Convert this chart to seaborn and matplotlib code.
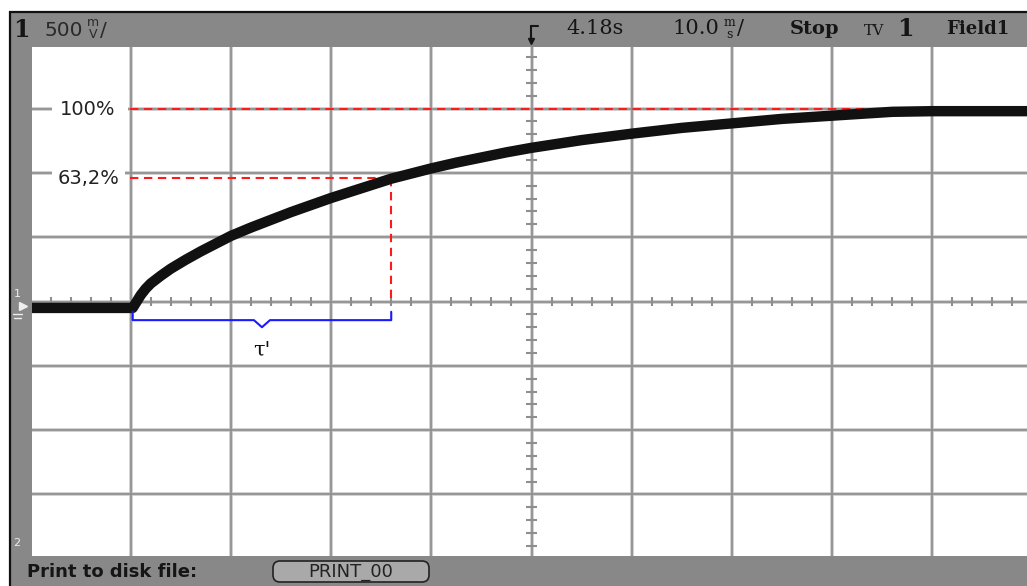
import matplotlib
matplotlib.use('Agg')
import matplotlib.pyplot as plt
from matplotlib.patches import Rectangle, FancyBboxPatch
import seaborn as sns
import numpy as np
import pandas as pd

# trace, in divisions (x: 10.0 ms/div, y: 500 mV/div)
time_div = [0.0, 1.02, 1.06, 1.1, 1.15, 1.2, 1.3, 1.4, 1.55, 1.7, 1.85, 2.0, 2.2, 2.4,
            2.6, 2.8, 3.0, 3.2, 3.4, 3.6, 3.8, 4.0, 4.25, 4.5, 4.75, 5.0, 5.25, 5.5,
            5.75, 6.0, 6.5, 7.0, 7.5, 8.0, 8.3, 8.6, 9.0, 9.95]
volt_div = [-0.10, -0.10, 0.00, 0.10, 0.20, 0.28, 0.40, 0.51, 0.65, 0.78, 0.90, 1.02, 1.15, 1.27,
            1.39, 1.50, 1.61, 1.71, 1.81, 1.91, 1.99, 2.07, 2.16, 2.24, 2.32, 2.39, 2.45, 2.51,
            2.56, 2.61, 2.70, 2.77, 2.84, 2.89, 2.92, 2.95, 2.96, 2.96]

level_100 = 2.99
level_632 = 1.92
step_start = 1.02
tau_end = 3.60
level_labels = ["100%", "63,2%"]

GRAY = "#888888"
GRID_DARK = "#8e8e8e"
GRID_LIGHT = "#c8c8c8"

sns.set_theme(style="white")
plt.rcParams['font.family'] = ['DejaVu Sans']

fig = plt.figure(figsize=(10.27, 5.86), dpi=100)

# frame of the scope screen, pixel coordinates
bg = fig.add_axes([0, 0, 1, 1])
bg.set_xlim(0, 1027)
bg.set_ylim(586, 0)
bg.axis('off')
bg.add_patch(Rectangle((10, 12), 1017, 574, facecolor=GRAY, edgecolor='none'))
bg.plot([9, 1027], [12, 12], color="#111111", lw=1.6, solid_capstyle='butt')
bg.plot([10, 10], [11, 586], color="#111111", lw=1.6, solid_capstyle='butt')

txt = "#151515"
bg.text(13, 30, "1", fontsize=17, fontweight='bold', family='DejaVu Serif', color=txt, va='center')
bg.text(44, 30, "500", fontsize=14.5, color="#2a2a2a", va='center')
bg.text(93, 23, "m", fontsize=9, color="#2a2a2a", ha='center', va='center')
bg.text(93, 35, "V", fontsize=9, color="#2a2a2a", ha='center', va='center')
bg.text(100, 30, "/", fontsize=14.5, color="#2a2a2a", va='center')

# trigger marker
bg.plot([531, 531], [26, 40], color=txt, lw=1.5)
bg.plot([531, 538], [26, 26], color=txt, lw=1.5)
bg.plot([531], [41], marker='v', color=txt, markersize=5)

bg.text(566, 29, "4.18s", fontsize=15, family='DejaVu Serif', color=txt, va='center')
bg.text(672, 29, "10.0", fontsize=15, family='DejaVu Serif', color=txt, va='center')
bg.text(729, 23, "m", fontsize=9, family='DejaVu Serif', color=txt, ha='center', va='center')
bg.text(729, 35, "s", fontsize=9, family='DejaVu Serif', color=txt, ha='center', va='center')
bg.text(737, 29, "/", fontsize=15, family='DejaVu Serif', color=txt, va='center')
bg.text(790, 29, "Stop", fontsize=14, fontweight='bold', family='DejaVu Serif', color=txt, va='center')
bg.text(864, 31, "TV", fontsize=10.5, family='DejaVu Serif', color=txt, va='center')
bg.text(897, 29, "1", fontsize=17, fontweight='bold', family='DejaVu Serif', color=txt, va='center')
bg.text(946, 29, "Field1", fontsize=13, fontweight='bold', family='DejaVu Serif', color=txt, va='center')

# bottom status bar
bg.text(27, 572, "Print to disk file:", fontsize=13, fontweight='bold', color=txt, va='center')
bg.add_patch(FancyBboxPatch((273, 561), 156, 21, boxstyle="round,pad=0,rounding_size=7",
                            facecolor="#a9a9a9", edgecolor="#222222", lw=1.2))
bg.text(351, 572, "PRINT_00", fontsize=13, color="#222222", ha='center', va='center')

# ground markers on the left strip
bg.text(17, 294, "1", fontsize=8, color="#eeeeee", ha='center', va='center')
bg.plot([23], [306], marker='>', color="#eeeeee", markersize=6)
bg.plot([13, 22], [314, 314], color="#eeeeee", lw=1)
bg.plot([14, 21], [318, 318], color="#eeeeee", lw=1)
bg.text(17, 543, "2", fontsize=8, color="#eeeeee", ha='center', va='center')

# graticule
ax = fig.add_axes([32 / 1027, 30 / 586, 995 / 1027, 509 / 586])
ax.set_facecolor("white")
ax.set_xlim((32 - 30.5) / 100.2, (1027 - 30.5) / 100.2)
ax.set_ylim(-(556 - 301.5) / 64.3, (301.5 - 47) / 64.3)
for s in ax.spines.values():
    s.set_visible(False)
ax.set_xticks([])
ax.set_yticks([])

for gx in range(1, 10):
    ax.axvline(gx, color=GRID_LIGHT, lw=2.6, zorder=1)
    ax.axvline(gx, color=GRID_DARK, lw=1.2, zorder=1.1)
for gy in range(-4, 4):
    ax.axhline(gy, color=GRID_LIGHT, lw=2.6, zorder=1)
    ax.axhline(gy, color=GRID_DARK, lw=1.2, zorder=1.1)

tx = np.arange(0.2, 10, 0.2)
tx = tx[np.abs(tx - np.round(tx)) > 0.01]
ax.vlines(tx, -0.075, 0.075, color=GRID_DARK, lw=1.5, zorder=1.1)
ty = np.arange(-3.8, 4, 0.2)
ty = ty[np.abs(ty - np.round(ty)) > 0.01]
ax.hlines(ty, 5 - 0.05, 5 + 0.05, color=GRID_DARK, lw=1.5, zorder=1.1)

# level labels with white backgrounds
ax.add_patch(Rectangle((0.21, level_100 - 0.17), 0.76, 0.34, facecolor='white', edgecolor='none', zorder=2))
ax.add_patch(Rectangle((0.21, 1.74), 0.73, 0.36, facecolor='white', edgecolor='none', zorder=2))
ax.text(0.575, level_100, level_labels[0], fontsize=14, color="#222222", ha='center', va='center', zorder=3)
ax.text(0.575, level_632, level_labels[1], fontsize=14, color="#222222", ha='center', va='center', zorder=3)

red_dash = (0, (4, 2.7))
ax.plot([0.99, 8.58], [level_100, level_100], color='#ff1a1a', lw=1.5, ls=red_dash, zorder=3)
ax.plot([0.99, tau_end], [level_632, level_632], color='#ff1a1a', lw=1.5, ls=red_dash, zorder=3)
ax.plot([tau_end, tau_end], [level_632, 0.0], color='#ff1a1a', lw=1.5, ls=red_dash, zorder=3)

# the trace
trace = pd.DataFrame({"t": time_div, "v": volt_div})
sns.lineplot(data=trace, x="t", y="v", ax=ax, color="#111111", lw=7.5, sort=False,
             zorder=4, solid_joinstyle='round')
ax.set_xlabel("")
ax.set_ylabel("")

# tau brace
mid = (step_start + tau_end) / 2
bx = [step_start, step_start, mid - 0.08, mid, mid + 0.08, tau_end, tau_end]
by = [-0.16, -0.29, -0.29, -0.40, -0.29, -0.29, -0.16]
ax.plot(bx, by, color="#1a1aff", lw=1.5, zorder=5)
ax.text(mid, -0.76, "τ'", fontsize=15, family='DejaVu Serif', color="#111111",
        ha='center', va='center', zorder=5)

plt.savefig("out.png", dpi=100)
plt.close()
